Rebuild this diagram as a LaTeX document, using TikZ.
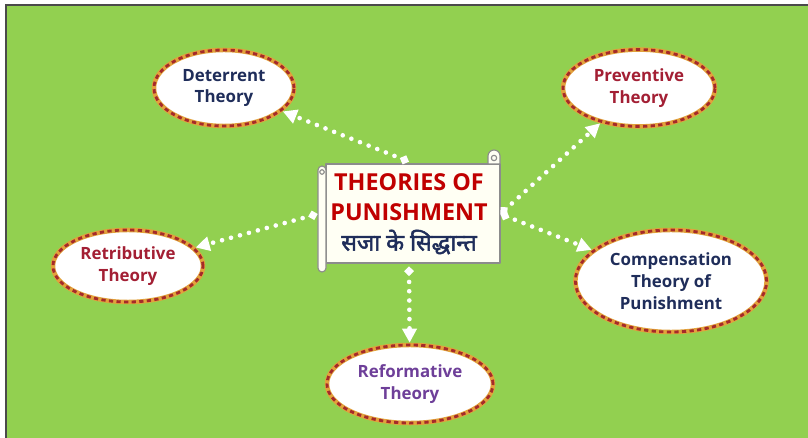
\documentclass[tikz,border=0pt]{standalone}
\usepackage{fontspec}
\setmainfont{Open Sans}
\newfontfamily\hindi[Script=Devanagari,FakeBold=2.2]{Noto Sans}
\usetikzlibrary{shapes.geometric,arrows.meta}
\definecolor{bgGreen}{HTML}{92D050}
\definecolor{frameGray}{HTML}{4A4A4A}
\definecolor{titleRed}{HTML}{C00000}
\definecolor{navyText}{HTML}{1F2D5A}
\definecolor{redText}{HTML}{A31F34}
\definecolor{purpleText}{HTML}{6E3F99}
\definecolor{ringGold}{HTML}{E2A23C}
\definecolor{ringRed}{HTML}{A52A2A}
\definecolor{scrollFill}{HTML}{FFFFF4}
\definecolor{scrollLine}{HTML}{8C8C8C}

\tikzset{
  theory/.style={ellipse, draw=ringGold, line width=3.2pt, fill=white, align=center,
    inner sep=0pt, font=\bfseries\fontsize{12}{15.5}\selectfont,
    postaction={draw=ringRed, line width=2pt, dash pattern=on 3pt off 2.4pt}},
  scroll/.style={fill=scrollFill, draw=scrollLine, line width=0.8pt, line join=round},
  link/.style={white, line width=3.3pt, line cap=round, dash pattern=on 0pt off 6.6pt,
    {Turned Square[length=7pt,width=7pt]}-{Triangle[length=10pt,width=10pt]}},
}

\begin{document}
\begin{tikzpicture}[x=0.025cm, y=-0.025cm]
    \useasboundingbox (0,0) rectangle (808,438);

    % Background and frame
    \fill[bgGreen] (6,5) rectangle (808,438);
    \draw[frameGray, line width=1.2pt] (6,438) -- (6,5) -- (808,5);

    % Scroll behind the title
    \filldraw[scroll] (326,164) -- (500,164) -- (500,263) -- (326,263) -- cycle;
    \filldraw[scroll] (488,164) -- (488,156) arc[start angle=180, end angle=0, radius=4.27pt] -- (500,164) -- cycle;
    \draw[scrollLine, line width=0.8pt] (494,158) circle[radius=1.9pt];
    \filldraw[scroll] (326,170) -- (326,268) arc[start angle=0, end angle=-180, radius=2.85pt]
        -- (318,170) arc[start angle=180, end angle=0, radius=2.85pt] -- cycle;
    \draw[scrollLine, line width=0.8pt] (322,172) circle[radius=1.6pt];

    % Centre title
    \node[minimum width=4.55cm, minimum height=2.6cm, align=center,
          font=\bfseries\fontsize{16.6}{21.3}\selectfont] (title) at (409,214)
        {\textcolor{titleRed}{THEORIES OF}\\
         \textcolor{titleRed}{PUNISHMENT}\\
         {\hindi\fontsize{16.5}{21.3}\selectfont\textcolor{navyText}{सजा के सिद्धान्त}}};

    % Outer theories
    \node[theory, minimum width=3.5cm, minimum height=1.9cm, text=navyText] (deterrent) at (224,88) {Deterrent\\Theory};
    \node[theory, minimum width=3.8cm, minimum height=1.92cm, text=redText] (preventive) at (639,88) {Preventive\\Theory};
    \node[theory, minimum width=3.75cm, minimum height=1.8cm, text=redText] (retributive) at (128,266) {Retributive\\Theory};
    \node[theory, minimum width=4.78cm, minimum height=2.55cm, text=navyText] (compensation) at (671,281) {Compensation\\Theory of\\Punishment};
    \node[theory, minimum width=4.15cm, minimum height=1.95cm, text=purpleText] (reformative) at (410,384) {Reformative\\Theory};

    % Dotted links
    \draw[link] (title.north) -- (deterrent);
    \draw[link] (title.east) -- (preventive);
    \draw[link] (title.west) -- (retributive);
    \draw[link] (title.east) -- (compensation);
    \draw[link] (title.south) -- (reformative);
\end{tikzpicture}
\end{document}
